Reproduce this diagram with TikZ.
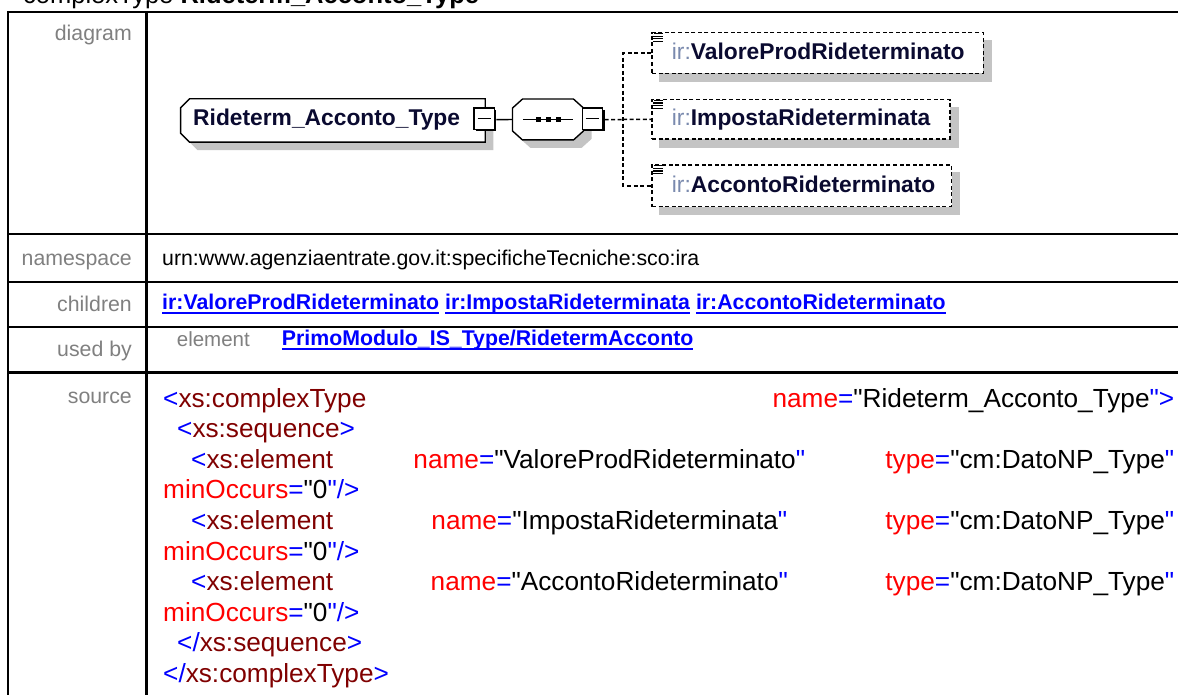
\documentclass[tikz,border=0pt]{standalone}
\usepackage{fontspec}
\setmainfont{Liberation Sans}[Ligatures=TeXOff]
\usetikzlibrary{calc}
\pgfdeclarelayer{bg}
\pgfsetlayers{bg,main}
\definecolor{lblgray}{HTML}{808080}
\definecolor{lnkblue}{HTML}{0000FF}
\definecolor{xmlblue}{HTML}{0000FF}
\definecolor{tagred}{HTML}{800000}
\definecolor{attrred}{HTML}{FF0000}
\definecolor{shadowgray}{HTML}{C4C4C4}
\definecolor{nstxt}{HTML}{7A8AAE}
\definecolor{elemtxt}{HTML}{0A0A30}
\newcommand\xB[1]{\textcolor{xmlblue}{#1}}
\newcommand\xT[1]{\textcolor{tagred}{#1}}
\newcommand\xA[1]{\textcolor{attrred}{#1}}
\newcommand\lnk[1]{{\bfseries\setbox0\hbox{#1}\rlap{\rule[-4pt]{\wd0}{1.6pt}}\box0}}
\tikzset{
  lbl/.style={anchor=base east, inner sep=0pt, text=lblgray, font=\fontsize{21.3}{25}\selectfont},
  val/.style={anchor=base west, inner sep=0pt, font=\fontsize{21.3}{25}\selectfont},
  src/.style={anchor=base west, inner sep=0pt, font=\fontsize{26.2}{30}\selectfont},
  tbl/.style={line width=2.3pt},
  elbox/.style={rectangle, draw, dash pattern=on 4pt off 2.6pt, line width=1.5pt, fill=white, inner sep=0pt},
  shapebox/.style={rectangle, inner sep=0pt, draw=none},
  eltxt/.style={anchor=base west, inner sep=0pt, font=\fontsize{22.8}{27}\selectfont},
  conn/.style={line width=1.4pt},
  dconn/.style={line width=1.5pt, dash pattern=on 4pt off 2.6pt},
  minusbox/.style={rectangle, inner sep=0pt, minimum width=22pt, minimum height=23pt, draw=none}
}
\begin{document}
\begin{tikzpicture}[x=1pt,y=-1pt]
\useasboundingbox (0,0) rectangle (1178,695);
\begin{pgfonlayer}{bg}
  \fill[white] (0,0) rectangle (1178,695);
\end{pgfonlayer}

% title
\node[anchor=base west, inner sep=0pt, font=\fontsize{25.5}{30}\selectfont] (title) at (23,4)
  {complexType \textbf{Rideterm\_Acconto\_Type}};

% table lines
\draw[tbl] (7.7,12) -- (1180,12);
\draw[tbl] (7.7,234.3) -- (1180,234.3);
\draw[tbl] (7.7,281.7) -- (1180,281.7);
\draw[tbl] (7.7,326.7) -- (1180,326.7);
\draw[tbl] (7.7,372.5) -- (1180,372.5);
\draw[tbl] (7.7,10.9) -- (7.7,700);
\draw[tbl] (146.6,10.9) -- (146.6,700);

% labels
\node[lbl] (ldiag) at (132,40.7) {diagram};
\node[lbl] (lns) at (132,265.7) {namespace};
\node[lbl] (lch) at (132,311) {children};
\node[lbl] (lub) at (132,356.7) {used by};
\node[lbl] (lsrc) at (132,403.3) {source};

% values
\node[val] (vns) at (162,265.7) {urn:www.agenziaentrate.gov.it:specificheTecniche:sco:ira};
\node[val, text=lnkblue] (vch) at (162,309.5)
  {\lnk{ir:ValoreProdRideterminato} \lnk{ir:ImpostaRideterminata} \lnk{ir:AccontoRideterminato}};
\node[anchor=base west, inner sep=0pt, text=lblgray, font=\fontsize{20.5}{24}\selectfont] (vube) at (176.7,346) {element};
\node[val, text=lnkblue] (vub) at (281.7,345.5) {\lnk{PrimoModulo\_IS\_Type/RidetermAcconto}};

% source
\node[src] (s1) at (163,407) {\makebox[1011pt][l]{\xB{<}\xT{xs:complexType}\hfill\xA{name}\xB{=}"Rideterm\_Acconto\_Type\xB{"}\xB{>}}};
\node[src] (s2) at (177,437.6) {\xB{<}\xT{xs:sequence}\xB{>}};
\node[src] (s3) at (191,468.2) {\makebox[983pt][l]{\xB{<}\xT{xs:element}\hfill\xA{name}\xB{=}"ValoreProdRideterminato\xB{"}\hfill\xA{type}\xB{=}"cm:DatoNP\_Type\xB{"}}};
\node[src] (s4) at (163,498.8) {\xA{minOccurs}\xB{=}"0\xB{"/>}};
\node[src] (s5) at (191,529.4) {\makebox[983pt][l]{\xB{<}\xT{xs:element}\hfill\xA{name}\xB{=}"ImpostaRideterminata\xB{"}\hfill\xA{type}\xB{=}"cm:DatoNP\_Type\xB{"}}};
\node[src] (s6) at (163,560) {\xA{minOccurs}\xB{=}"0\xB{"/>}};
\node[src] (s7) at (191,590.6) {\makebox[983pt][l]{\xB{<}\xT{xs:element}\hfill\xA{name}\xB{=}"AccontoRideterminato\xB{"}\hfill\xA{type}\xB{=}"cm:DatoNP\_Type\xB{"}}};
\node[src] (s8) at (163,621.2) {\xA{minOccurs}\xB{=}"0\xB{"/>}};
\node[src] (s9) at (177,651.8) {\xB{</}\xT{xs:sequence}\xB{>}};
\node[src] (s10) at (163,682.4) {\xB{</}\xT{xs:complexType}\xB{>}};

% ---------- diagram ----------
\node[shapebox, minimum width=304.3pt, minimum height=43pt] (main) at (332.9,120.5) {};
\node[shapebox, minimum width=70.6pt, minimum height=40.5pt] (seq) at (548,119.5) {};
\node[minusbox] (m1) at (485.2,119.7) {};
\node[minusbox] (m2) at (593.3,119.7) {};
\coordinate (br) at (623,119.5);

\node[elbox, minimum width=331.3pt, minimum height=40.6pt] (c1) at (817.7,53) {};
\node[elbox, minimum width=298pt, minimum height=39.3pt] (c2) at (801,119.3) {};
\node[elbox, minimum width=299.7pt, minimum height=41.7pt] (c3) at (801.8,185.8) {};

\begin{pgfonlayer}{bg}
  % child shadows
  \foreach \c in {c1,c2,c3} {
    \fill[shadowgray] ($(\c.north west)+(8,8)$) rectangle ($(\c.south east)+(8,8)$);
  }
  % main box shadow + outline
  \fill[shadowgray] ($(main.north west)+(9+8,8)$) -- ($(main.north east)+(8,8)$) -- ($(main.south east)+(8,8)$)
     -- ($(main.south west)+(9+8,8)$) -- ($(main.south west)+(8,-9+8)$) -- ($(main.north west)+(8,9+8)$) -- cycle;
  \draw[fill=white, line width=1.4pt] ($(main.north west)+(9,0)$) -- (main.north east) -- (main.south east)
     -- ($(main.south west)+(9,0)$) -- ($(main.south west)+(0,-9)$) -- ($(main.north west)+(0,9)$) -- cycle;
  % sequence shadow + outline
  \fill[shadowgray] ($(seq.north west)+(10+8,8)$) -- ($(seq.north east)+(-10+8,8)$) -- ($(seq.north east)+(8,9+8)$)
     -- ($(seq.south east)+(8,-9+8)$) -- ($(seq.south east)+(-10+8,8)$) -- ($(seq.south west)+(10+8,8)$)
     -- ($(seq.south west)+(8,-9+8)$) -- ($(seq.north west)+(8,9+8)$) -- cycle;
  \draw[fill=white, line width=1.4pt] ($(seq.north west)+(10,0)$) -- ($(seq.north east)+(-10,0)$) -- ($(seq.north east)+(0,9)$)
     -- ($(seq.south east)+(0,-9)$) -- ($(seq.south east)+(-10,0)$) -- ($(seq.south west)+(10,0)$)
     -- ($(seq.south west)+(0,-9)$) -- ($(seq.north west)+(0,9)$) -- cycle;
\end{pgfonlayer}

% main text
\node[eltxt, text=elemtxt] (maintxt) at (193,126) {\textbf{Rideterm\_Acconto\_Type}};

% sequence symbol
\draw[conn] ($(seq.west)+(10.3,0)$) -- ($(seq.east)+(-10.3,0)$);
\foreach \dx in {-10,0,10} {
  \fill ($(seq.center)+(\dx-2.5,-2.5)$) rectangle ++(5,5);
}

% connectors
\draw[conn] (m1.east) -- (seq.west);
\draw[dconn] (m2.east) -- (br);
\draw[dconn] (c1.west) -| (br) |- (c3.west);
\draw[dconn] (br) -- (c2.west);

% minus boxes
\foreach \m in {m1,m2} {
  \draw[fill=white, line width=1.1pt] (\m.north west) rectangle ($(\m.south east)+(-2,-2)$);
  \draw[line width=2.4pt] ($(\m.north east)+(-1.2,2)$) -- ($(\m.south east)+(-1.2,-1.2)$) -- ($(\m.south west)+(2,-1.2)$);
  \draw[line width=1.4pt] ($(\m.west)+(3.5,-1)$) -- ($(\m.east)+(-5.5,-1)$);
}

% child texts and icons
\node[eltxt] (c1t) at (671.7,60) {\textcolor{nstxt}{ir:}\textcolor{elemtxt}{\textbf{ValoreProdRideterminato}}};
\node[eltxt] (c2t) at (671.7,126) {\textcolor{nstxt}{ir:}\textcolor{elemtxt}{\textbf{ImpostaRideterminata}}};
\node[eltxt] (c3t) at (671.7,192.5) {\textcolor{nstxt}{ir:}\textcolor{elemtxt}{\textbf{AccontoRideterminato}}};
\foreach \c in {c1,c2,c3} {
  \foreach \dy/\dx in {1.5/3, 4.2/2, 6.9/2, 9.6/2} {
    \draw[line width=1.2pt] ($(\c.north west)+(\dx,\dy)$) -- ($(\c.north west)+(11.5,\dy)$);
  }
}
\end{tikzpicture}
\end{document}
